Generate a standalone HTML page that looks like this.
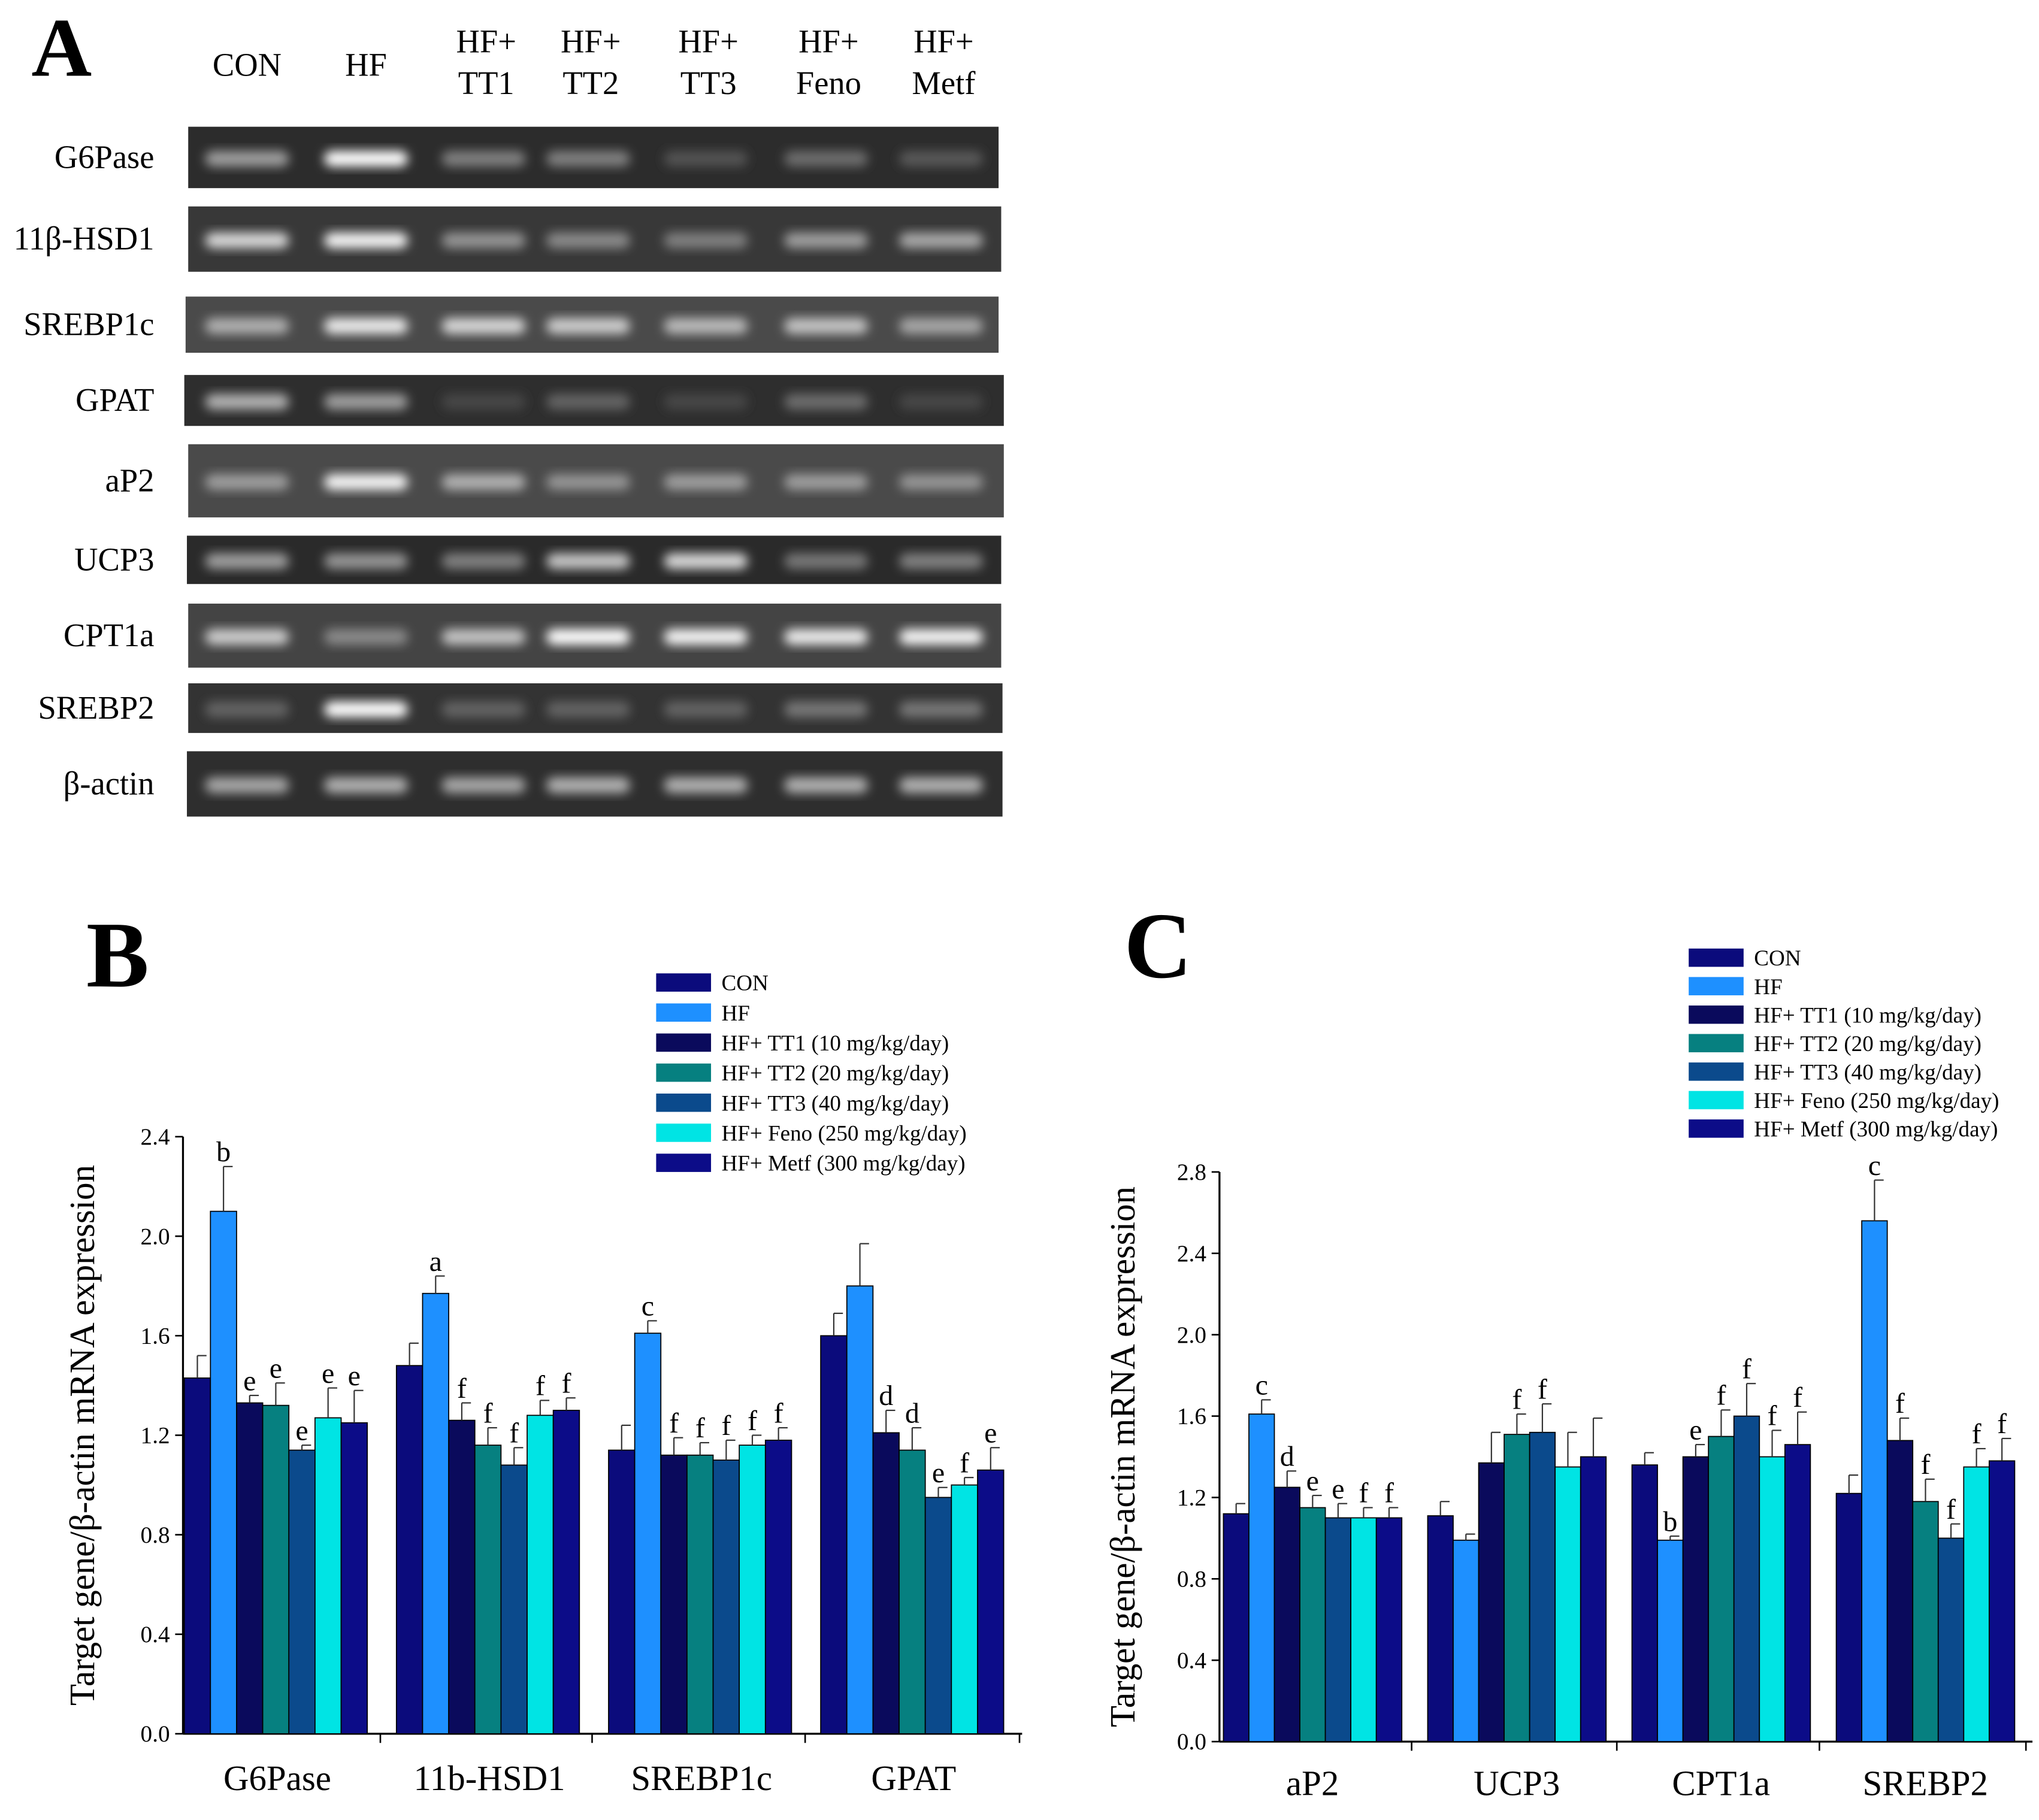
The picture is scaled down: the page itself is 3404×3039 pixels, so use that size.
<!DOCTYPE html>
<html><head><meta charset="utf-8"><style>
html,body{margin:0;padding:0;background:#fff}
svg{display:block}
text{font-family:"Liberation Serif",serif;fill:#000}
</style></head><body>
<svg id="fig" width="3404" height="3039" viewBox="0 0 1560 1393" preserveAspectRatio="none" xmlns="http://www.w3.org/2000/svg">
<defs>
<filter id="blur" x="-50%" y="-50%" width="200%" height="200%"><feGaussianBlur stdDeviation="4"/></filter>
</defs>
<text x="24" y="58" font-size="64" font-weight="bold">A</text>
<text x="66" y="755" font-size="72" font-weight="bold">B</text>
<text x="860" y="748" font-size="72" font-weight="bold">C</text>
<g id="gel"></g>
<g id="chartB"></g>
<g id="chartC"></g>
</svg>
<script>
const NS='http://www.w3.org/2000/svg';
const lanes=['CON','HF','HF+|TT1','HF+|TT2','HF+|TT3','HF+|Feno','HF+|Metf'];
const genes=['G6Pase','11β-HSD1','SREBP1c','GPAT','aP2','UCP3','CPT1a','SREBP2','β-actin'];
const bandIntensity=[
[0.5,1.0,0.35,0.35,0.12,0.25,0.15],
[0.8,0.95,0.45,0.4,0.35,0.5,0.55],
[0.6,0.9,0.8,0.75,0.65,0.7,0.55],
[0.6,0.5,0.05,0.2,0.05,0.25,0.05],
[0.5,0.95,0.6,0.45,0.5,0.5,0.45],
[0.5,0.45,0.35,0.7,0.8,0.3,0.35],
[0.75,0.4,0.7,1.0,0.95,0.9,0.95],
[0.2,1.0,0.2,0.2,0.2,0.3,0.3],
[0.55,0.6,0.55,0.6,0.6,0.6,0.6]];
const seriesNames=['CON','HF','HF+ TT1  (10 mg/kg/day)','HF+ TT2  (20 mg/kg/day)','HF+ TT3  (40 mg/kg/day)','HF+ Feno  (250 mg/kg/day)','HF+ Metf  (300 mg/kg/day)'];
const seriesColors=['#0b0b7c','#1e90ff','#0a0a5c','#068080','#0b4a8c','#00e4e4','#0c0c88'];
const catsB=['G6Pase','11b-HSD1','SREBP1c','GPAT'];
const valsB=[[1.43,2.10,1.33,1.32,1.14,1.27,1.25],[1.48,1.77,1.26,1.16,1.08,1.28,1.30],[1.14,1.61,1.12,1.12,1.10,1.16,1.18],[1.60,1.80,1.21,1.14,0.95,1.00,1.06]];
const errB=[[1.52,2.28,1.36,1.41,1.16,1.39,1.38],[1.57,1.84,1.33,1.23,1.15,1.34,1.35],[1.24,1.66,1.19,1.17,1.18,1.20,1.23],[1.69,1.97,1.30,1.23,0.99,1.03,1.15]];
const lettersB=[['','b','e','e','e','e','e'],['','a','f','f','f','f','f'],['','c','f','f','f','f','f'],['','','d','d','e','f','e']];
const ticksB=['0.0','0.4','0.8','1.2','1.6','2.0','2.4'];
const catsC=['aP2','UCP3','CPT1a','SREBP2'];
const valsC=[[1.12,1.61,1.25,1.15,1.10,1.10,1.10],[1.11,0.99,1.37,1.51,1.52,1.35,1.40],[1.36,0.99,1.40,1.50,1.60,1.40,1.46],[1.22,2.56,1.48,1.18,1.00,1.35,1.38]];
const errC=[[1.17,1.68,1.33,1.21,1.17,1.15,1.15],[1.18,1.02,1.52,1.61,1.66,1.52,1.59],[1.42,1.01,1.46,1.63,1.76,1.53,1.62],[1.31,2.76,1.59,1.29,1.07,1.44,1.49]];
const lettersC=[['','c','d','e','e','f','f'],['','','','f','f','',''],['','b','e','f','f','f','f'],['','c','f','f','f','f','f']];
const ticksC=['0.0','0.4','0.8','1.2','1.6','2.0','2.4','2.8'];

function mk(tag,attrs,parent,txt){const e=document.createElementNS(NS,tag);for(const k in attrs)e.setAttribute(k,attrs[k]);if(txt!==undefined)e.textContent=txt;parent.appendChild(e);return e;}

// Gel
const gel=document.getElementById('gel');
const rowBox=[[97,144,144,764,'#2c2c2c'],[158,208,144,766,'#383838'],[227,270,142,764,'#4a4a4a'],[287,326,141,768,'#2e2e2e'],[340,396,144,768,'#4a4a4a'],[410,447,143,766,'#2a2a2a'],[462,511,144,766,'#444'],[523,561,144,767,'#333'],[575,625,143,767,'#2e2e2e']];
const laneX=[189,280,370,450,540,632,720];
lanes.forEach((l,i)=>{
  const p=l.split('|');
  if(p.length===1){const t=mk('text',{x:laneX[i],y:58,'font-size':25,'text-anchor':'middle'},gel,p[0]);}
  else{const t=mk('text',{x:laneX[i]+2,y:40,'font-size':25,'text-anchor':'middle'},gel,p[0]);
  const t2=mk('text',{x:laneX[i]+2,y:72,'font-size':25,'text-anchor':'middle'},gel,p[1]);}
});
genes.forEach((g,r)=>{
  const [y0,y1,x0,x1,bg]=rowBox[r];
  const rect=mk('rect',{x:x0,y:y0,width:x1-x0,height:y1-y0,fill:bg},gel);
  
  const t=mk('text',{x:118,y:(y0+y1)/2+8,'font-size':25,'text-anchor':'end'},gel,g);
  
  bandIntensity[r].forEach((v,i)=>{
    const c=Math.round(60+v*195);
    const b=mk('rect',{x:laneX[i]-32,y:(y0+y1)/2-5,width:64,height:12,rx:6,fill:`rgb(${c},${c},${c})`,filter:'url(#blur)'},gel);
    
  });
});

function chart(gid,cfg){
  const g=document.getElementById(gid);
  const {x0,x1,yBase,yTop,maxV,cats,vals,errs,letters,ticks,groupStart,groupStep,barW,seps,labelY,legX,legY,titleX}=cfg;
  const ys=v=>yBase-(v/maxV)*(yBase-yTop);
  const ax=mk('line',{x1:x0,y1:yTop,x2:x0,y2:yBase,stroke:'#000','stroke-width':1.5},g);
  
  const xa=mk('line',{x1:x0,y1:yBase,x2:x1,y2:yBase,stroke:'#000','stroke-width':1.5},g);
  
  ticks.forEach((t,i)=>{
    const v=parseFloat(t),y=ys(v);
    mk('line',{x1:x0-6,y1:y,x2:x0,y2:y,stroke:'#000','stroke-width':1.2},g);
    const tx=mk('text',{x:x0-10,y:y+6,'font-size':18,'text-anchor':'end','font-family':'Liberation Sans'},g,t);
    
  });
  seps.forEach(s=>{mk('line',{x1:s,y1:yBase,x2:s,y2:yBase+7,stroke:'#000','stroke-width':1.2},g);});
  cats.forEach((c,ci)=>{
    const gs=groupStart+ci*groupStep;
    vals[ci].forEach((v,si)=>{
      const bx=gs+si*barW;
      const r=mk('rect',{x:bx,y:ys(v),width:barW,height:yBase-ys(v),fill:seriesColors[si],stroke:'#000','stroke-width':0.8},g);
      
      const cx=bx+barW/2,ye=ys(errs[ci][si]);
      mk('line',{x1:cx,y1:ys(v),x2:cx,y2:ye,stroke:'#333','stroke-width':1},g);
      mk('line',{x1:cx,y1:ye,x2:cx+7,y2:ye,stroke:'#333','stroke-width':1},g);
      if(letters[ci][si]){const l=mk('text',{x:cx,y:ye-4,'font-size':22,'text-anchor':'middle'},g,letters[ci][si]);
        }
    });
    const lbl=mk('text',{x:gs+groupStep/2-10,y:labelY,'font-size':27,'text-anchor':'middle'},g,c);
    
  });
  const tt=mk('text',{x:titleX,y:(yTop+yBase)/2,'font-size':27,'text-anchor':'middle',transform:`rotate(-90 ${titleX} ${(yTop+yBase)/2})`},g,'Target gene/β-actin mRNA expression');
  
  seriesNames.forEach((n,i)=>{
    const y=legY+i*cfg.legStep;
    const s=mk('rect',{x:legX,y:y-7,width:42,height:14,fill:seriesColors[i]},g);
    
    const t=mk('text',{x:legX+50,y:y+6,'font-size':17},g,n);
    
  });
}
chart('chartB',{x0:140,x1:782,yBase:1327,yTop:870,maxV:2.4,cats:catsB,vals:valsB,errs:errB,letters:lettersB,ticks:ticksB,groupStart:141,groupStep:162.3,barW:20,seps:[291,453,616,780],labelY:1370,legX:502,legY:752,legStep:23,titleX:72});
chart('chartC',{x0:933,x1:1555,yBase:1333,yTop:897,maxV:2.8,cats:catsC,vals:valsC,errs:errC,letters:lettersC,ticks:ticksC,groupStart:936,groupStep:156.3,barW:19.5,seps:[1080,1237,1392,1550],labelY:1374,legX:1292,legY:733,legStep:21.8,titleX:868});
</script>
</body></html>
